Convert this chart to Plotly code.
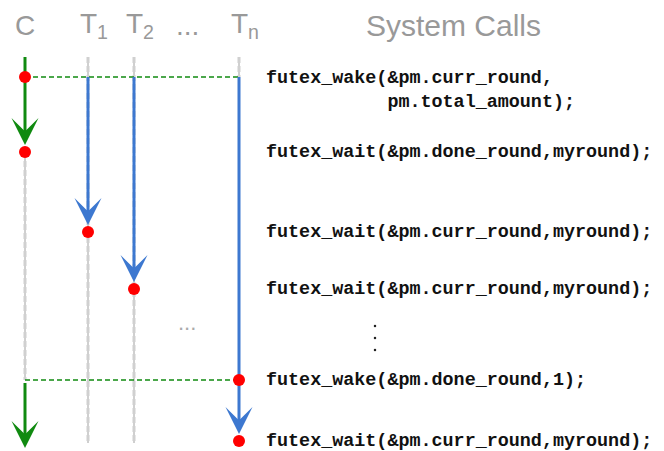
import plotly.graph_objects as go

# ---- data ----
lane_labels = ["C", "T<sub>1</sub>", "T<sub>2</sub>", "T<sub>n</sub>"]
lane_x = [25, 88, 134, 239]
ellipsis_x = 187
header_y = 25
lane_top = 57
lane_bottom = 443
wake_y = 77
call_y = [77, 152, 232, 289, 380, 441]
call_lane = [0, 0, 1, 2, 3, 3]
call_text = [
    "futex_wake(&amp;pm.curr_round,<br>" + "&nbsp;" * 11 + "pm.total_amount);",
    "futex_wait(&amp;pm.done_round,myround);",
    "futex_wait(&amp;pm.curr_round,myround);",
    "futex_wait(&amp;pm.curr_round,myround);",
    "futex_wake(&amp;pm.done_round,1);",
    "futex_wait(&amp;pm.curr_round,myround);",
]
text_x = 265
dots_y = [326, 338, 350]
vdots_x = 375

GREEN = "#108a10"
BLUE = "#3d78d0"
RED = "#ff0000"
GREY = "#999999"

# page body has an 8px margin; offset ranges so data units equal page pixels
OFF = 8

fig = go.Figure()

def seg(x0, y0, x1, y1, color, width, dash="solid"):
    fig.add_trace(go.Scatter(x=[x0, x1], y=[y0, y1], mode="lines",
                             line=dict(color=color, width=width, dash=dash),
                             hoverinfo="skip", showlegend=False))

def head(x, y, color, back=16):
    fig.add_annotation(x=x, y=y, ax=x, ay=y - back, xref="x", yref="y",
                       axref="x", ayref="y", text="", showarrow=True,
                       arrowhead=3, arrowwidth=3, arrowsize=1.5,
                       arrowcolor=color, standoff=0)

# grey lifelines
grey_ranges = [(call_y[1], call_y[4]), (lane_top, lane_bottom),
               (lane_top, lane_bottom), (lane_top, wake_y)]
for lx, (y0, y1) in zip(lane_x, grey_ranges):
    seg(lx, y0, lx, y1, "#a0a0a0", 1)
    seg(lx, y0, lx, y1, "#d0d0d0", 3, "6px,3px")

# dashed green sync lines
seg(lane_x[0], wake_y, lane_x[3], wake_y, GREEN, 1.3, "5px,3px")
seg(lane_x[0], call_y[4], lane_x[3], call_y[4], GREEN, 1.3, "5px,3px")

# coordinator arrows
c_tip1 = call_y[1] - 7
seg(lane_x[0], lane_top, lane_x[0], c_tip1 - 10, GREEN, 3)
head(lane_x[0], c_tip1, GREEN)
c_tip2 = 448
seg(lane_x[0], call_y[4] + 3, lane_x[0], c_tip2 - 10, GREEN, 3)
head(lane_x[0], c_tip2, GREEN)

# worker arrows
for i, lane in enumerate([1, 2, 3]):
    end_y = call_y[2 + i] if lane != 3 else call_y[5]
    tip = end_y - 7
    seg(lane_x[lane], wake_y, lane_x[lane], tip - 10, BLUE, 3)
    head(lane_x[lane], tip, BLUE)

# red event dots
fig.add_trace(go.Scatter(x=[lane_x[l] for l in call_lane], y=call_y, mode="markers",
                         marker=dict(color=RED, size=12), hoverinfo="skip",
                         showlegend=False))

# vertical ellipsis dots
fig.add_trace(go.Scatter(x=[vdots_x] * len(dots_y), y=dots_y, mode="markers",
                         marker=dict(color="#222222", size=2.5), hoverinfo="skip",
                         showlegend=False))

# headers
hfont = dict(family="Liberation Sans, Arial, Helvetica", size=28, color=GREY)
for lab, lx in zip(lane_labels, lane_x):
    if lab == "C":
        fig.add_annotation(x=lx, y=header_y, text=lab, showarrow=False,
                           xanchor="center", yanchor="middle", font=hfont)
    else:
        fig.add_annotation(x=lx - 8.5, y=header_y, text=lab, showarrow=False,
                           xanchor="left", yanchor="middle", font=hfont,
                           xshift=-2)
fig.add_annotation(x=ellipsis_x, y=header_y, text="...", showarrow=False,
                   xanchor="center", yanchor="middle", font=hfont)
fig.add_annotation(x=453, y=header_y, text="System Calls", showarrow=False,
                   xanchor="center", yanchor="middle", font=dict(hfont, size=30))

# mid ellipsis
fig.add_annotation(x=ellipsis_x, y=dots_y[0], text="...", showarrow=False,
                   xanchor="center", yanchor="middle", yshift=4,
                   font=dict(family="Liberation Sans, Arial", size=22, color="#aaaaaa"))

# system call texts
mfont = dict(family="Courier New, Nimbus Mono PS, Liberation Mono, monospace",
             size=18.4, color="#111111")
for k, (t, y) in enumerate(zip(call_text, call_y)):
    if k == 0:
        fig.add_annotation(x=text_x, y=y, text="<b>" + t + "</b>", showarrow=False,
                           xanchor="left", yanchor="top", yshift=10, align="left",
                           font=mfont, borderpad=0)
    else:
        fig.add_annotation(x=text_x, y=y, text="<b>" + t + "</b>", showarrow=False,
                           xanchor="left", yanchor="middle", align="left",
                           font=mfont, borderpad=0)

fig.update_layout(
    width=664, height=451,
    margin=dict(l=0, r=0, t=0, b=0),
    paper_bgcolor="white", plot_bgcolor="white",
    xaxis=dict(range=[OFF, 664 + OFF], visible=False, fixedrange=True),
    yaxis=dict(range=[451 + OFF, OFF], visible=False, fixedrange=True),
    showlegend=False,
)
fig.write_html("out.html")
